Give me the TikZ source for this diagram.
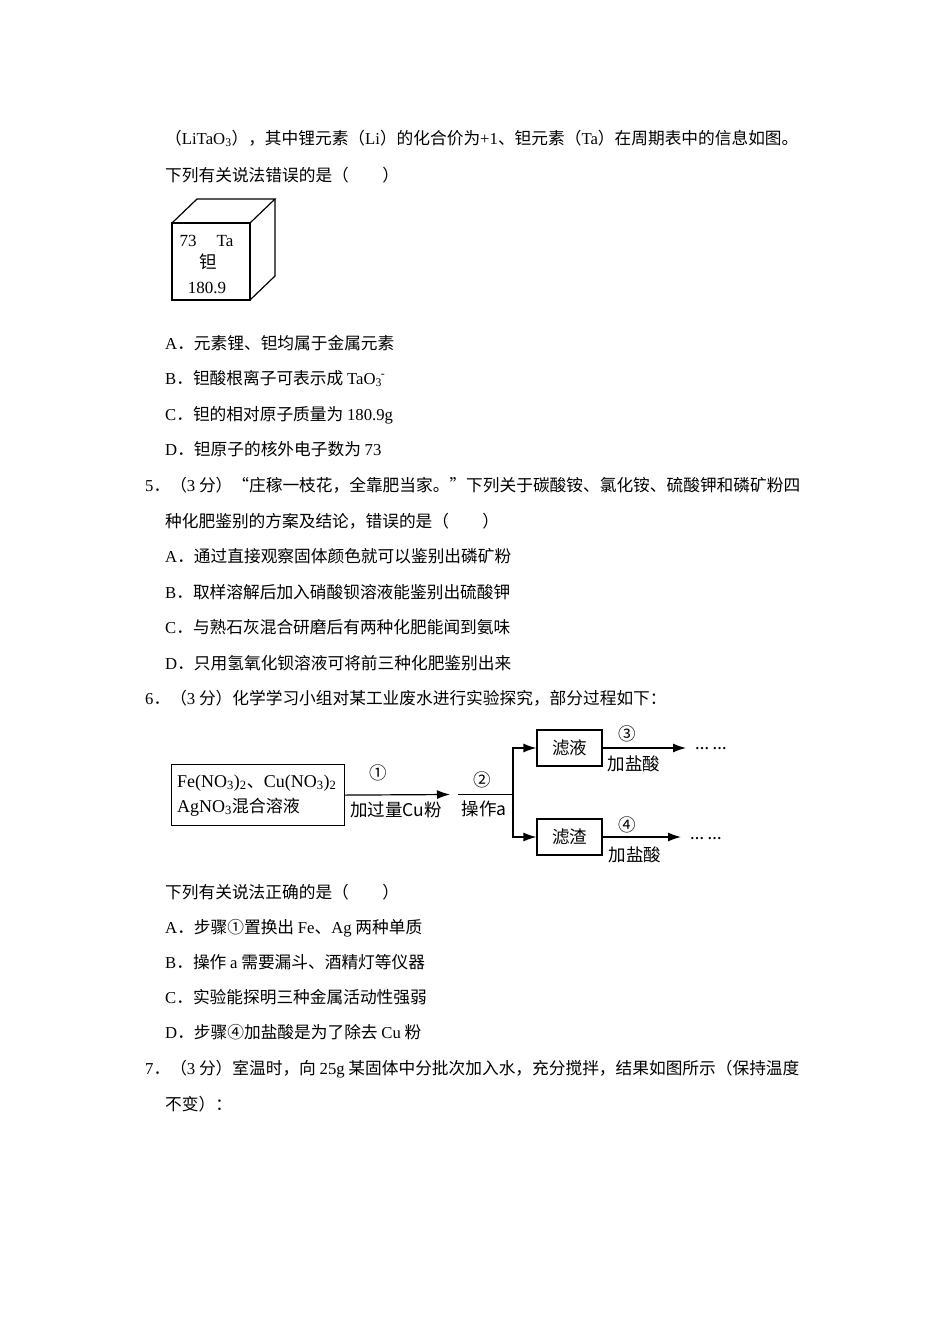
\documentclass[tikz,border=0pt]{standalone}
\usepackage{fontspec}
\setmainfont{Noto Sans CJK SC}
\newfontfamily\lser{Liberation Serif}
\usetikzlibrary{arrows.meta}
\newcommand\bodyfs{\fontsize{16.7}{20}\selectfont}
\newcommand\diagfs{\fontsize{17.5}{21}\selectfont}
\newcommand\la[1]{{\lser #1}}
\tikzset{
  txt/.style={anchor=base west, inner sep=0pt, font=\bodyfs},
  box/.style={draw, line width=1.2pt, inner sep=0pt},
  arr/.style={line width=1.2pt, -{Latex[length=13pt,width=9pt]}},
  plain/.style={line width=1.2pt},
  lbl/.style={inner sep=0pt, font=\diagfs},
  cube/.style={line width=1.2pt, line join=miter},
  elnum/.style={inner sep=0pt, font=\lser\fontsize{17}{20}\selectfont},
  dots/.style={inner sep=0pt, anchor=west, font=\lser\bfseries\fontsize{14}{16}\selectfont},
}
\begin{document}
\begin{tikzpicture}[x=1pt,y=-1pt]
\fill[white] (0,0) rectangle (950,1344);
\useasboundingbox (0,0) rectangle (950,1344);

% ---- text before the element box
\node[txt] (t1) at (165,144) {（\la{LiTaO\textsubscript{3}}），其中锂元素（\la{Li}）的化合价为\la{+1}、钽元素（\la{Ta}）在周期表中的信息如图。};
\node[txt] (t2) at (165,181) {下列有关说法错误的是（\hspace{2em}）};

% ---- element cube
\coordinate (c1) at (172,223);
\coordinate (c2) at (250,223);
\coordinate (c3) at (250,300);
\coordinate (c4) at (172,300);
\coordinate (c5) at (197,199);
\coordinate (c6) at (275,199);
\coordinate (c7) at (275,276);
\draw[cube] (c1) -- (c2) -- (c3) -- (c4) -- cycle;
\draw[cube] (c1) -- (c5) -- (c6) -- (c2);
\draw[cube] (c6) -- (c7) -- (c3);
\node[elnum] (en) at (188,241) {73};
\node[elnum] (es) at (225,241) {Ta};
\node[lbl] (ez) at (208,262) {钽};
\node[elnum] (em) at (207,288) {180.9};

% ---- question 4 options
\node[txt] (t3) at (165,349) {\la{A}．元素锂、钽均属于金属元素};
\node[txt] (t4) at (165,384) {\la{B}．钽酸根离子可表示成 \la{TaO\textsubscript{3}\kern-1pt\textsuperscript{-}}};
\node[txt] (t5) at (165,420) {\la{C}．钽的相对原子质量为 \la{180.9g}};
\node[txt] (t6) at (165,455) {\la{D}．钽原子的核外电子数为 \la{73}};

% ---- question 5
\node[txt] (t7) at (145,491) {\la{5}．（\la{3} 分）“庄稼一枝花，全靠肥当家。”下列关于碳酸铵、氯化铵、硫酸钾和磷矿粉四};
\node[txt] (t8) at (165,527) {种化肥鉴别的方案及结论，错误的是（\hspace{2em}）};
\node[txt] (t9) at (165,562) {\la{A}．通过直接观察固体颜色就可以鉴别出磷矿粉};
\node[txt] (t10) at (165,598) {\la{B}．取样溶解后加入硝酸钡溶液能鉴别出硫酸钾};
\node[txt] (t11) at (165,633) {\la{C}．与熟石灰混合研磨后有两种化肥能闻到氨味};
\node[txt] (t12) at (165,669) {\la{D}．只用氢氧化钡溶液可将前三种化肥鉴别出来};

% ---- question 6
\node[txt] (t13) at (145,704) {\la{6}．（\la{3} 分）化学学习小组对某工业废水进行实验探究，部分过程如下：};

% flow diagram
\node[box, minimum width=173pt, minimum height=61pt, anchor=north west] (mix) at (171,764) {};
\node[lbl, anchor=west, font=\lser\fontsize{18}{21}\selectfont] (mixa) at (177,783) {Fe(NO\textsubscript{3})\textsubscript{2}{\rmfamily\fontsize{17}{20}\selectfont 、}Cu(NO\textsubscript{3})\textsubscript{2}};
\node[lbl, anchor=west, font=\lser\fontsize{18}{21}\selectfont] (mixb) at (177,807) {AgNO\textsubscript{3}{\rmfamily\fontsize{17}{20}\selectfont 混合溶液}};
\coordinate (a1) at (450,794.5);
\draw[arr] (mix.east) -- (a1);
\node[lbl] (n1) at (378,773) {①};
\node[lbl] (l1) at (396,810) {加过量Cu粉};

\coordinate (s2) at (458,794.5);
\coordinate (j2) at (513,794.5);
\draw[plain] (s2) -- (j2);
\node[lbl] (n2) at (482,780) {②};
\node[lbl] (l2) at (484,809) {操作a};

\node[box, minimum width=65pt, minimum height=36pt] (ly) at (569.5,748) {\diagfs 滤液};
\node[box, minimum width=65pt, minimum height=36pt] (lz) at (569.5,837) {\diagfs 滤渣};
\draw[arr] (j2) |- (ly.west);
\draw[arr] (j2) |- (lz.west);

\coordinate (e3) at (686,748);
\coordinate (e4) at (681,837);
\draw[arr] (ly.east) -- (e3);
\draw[arr] (lz.east) -- (e4);
\node[lbl] (n3) at (627,734) {③};
\node[lbl] (l3) at (634,764) {加盐酸};
\node[lbl] (n4) at (627,825) {④};
\node[lbl] (l4) at (635,855) {加盐酸};
\node[dots] (d3) at (695,749) {… …};
\node[dots] (d4) at (690,839) {… …};

% ---- question 6 options
\node[txt] (t14) at (165,898) {下列有关说法正确的是（\hspace{2em}）};
\node[txt] (t15) at (165,933) {\la{A}．步骤①置换出 \la{Fe}、\la{Ag} 两种单质};
\node[txt] (t16) at (165,968) {\la{B}．操作 \la{a} 需要漏斗、酒精灯等仪器};
\node[txt] (t17) at (165,1003) {\la{C}．实验能探明三种金属活动性强弱};
\node[txt] (t18) at (165,1038) {\la{D}．步骤④加盐酸是为了除去 \la{Cu} 粉};

% ---- question 7
\node[txt] (t19) at (145,1074) {\la{7}．（\la{3} 分）室温时，向 \la{25g} 某固体中分批次加入水，充分搅拌，结果如图所示（保持温度};
\node[txt] (t20) at (165,1110) {不变）：};
\end{tikzpicture}
\end{document}
